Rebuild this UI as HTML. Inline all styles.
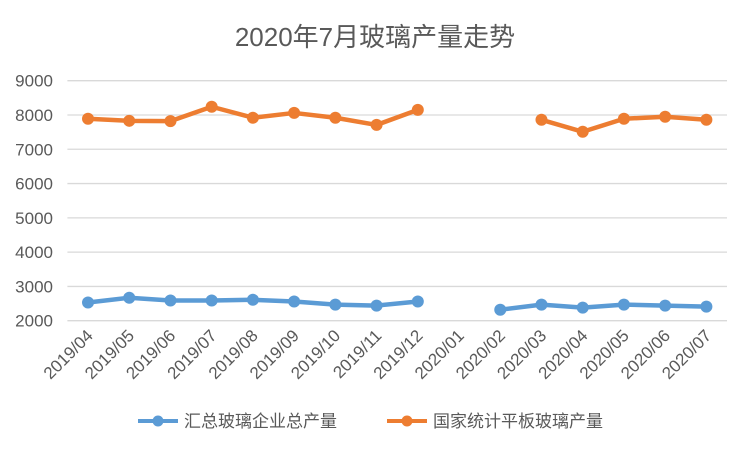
<!DOCTYPE html>
<html><head><meta charset="utf-8"><style>
body{margin:0;background:#fff;}
svg text{font-family:"Liberation Sans","Noto Sans CJK SC",sans-serif;fill:#595959;}
</style></head><body>
<svg width="750" height="449" xmlns="http://www.w3.org/2000/svg">
<text x="375" y="46" text-anchor="middle" font-size="26">2020年7月玻璃产量走势</text>
<g id="grid"></g><g id="xl"></g><g id="series"></g>
<g>
<g><line x1="138" y1="421" x2="178" y2="421" stroke="#5B9BD5" stroke-width="4"/><circle cx="158" cy="421" r="5.5" fill="#5B9BD5"/><text x="184" y="427" font-size="17">汇总玻璃企业总产量</text></g>
<g><line x1="387" y1="421" x2="427" y2="421" stroke="#ED7D31" stroke-width="4"/><circle cx="407" cy="421" r="5.5" fill="#ED7D31"/><text x="433" y="427" font-size="17">国家统计平板玻璃产量</text></g>
</g>
</svg>
<script>
const categories=["2019/04","2019/05","2019/06","2019/07","2019/08","2019/09","2019/10","2019/11","2019/12","2020/01","2020/02","2020/03","2020/04","2020/05","2020/06","2020/07"].slice(0,15).map((c,i,a)=>c);
const cats=["2019/04","2019/05","2019/06","2019/07","2019/08","2019/09","2019/10","2019/11","2019/12","2020/01","2020/02","2020/03","2020/04","2020/05","2020/06"].concat(["2020/07"]);
const blueValues=[2530,2670,2590,2590,2610,2560,2470,2440,2560,null,2320,2470,2380,2470,2440,2410];
const orangeValues=[7890,7830,7820,8240,7920,8060,7920,7710,8150,null,null,7860,7510,7890,7950,7860];
const yTicks=[2000,3000,4000,5000,6000,7000,8000,9000];
const NS="http://www.w3.org/2000/svg";
const L=67.4,R=727,T=80.7,B=320.7,ymin=2000,ymax=9000;
const n=cats.length, step=(R-L)/n;
const xs=i=>L+step*(i+0.5);
const ys=v=>B-(v-ymin)/(ymax-ymin)*(B-T);
function mk(t,a,p){const e=document.createElementNS(NS,t);for(const k in a)e.setAttribute(k,a[k]);p.appendChild(e);return e;}
const g=document.getElementById('grid');
yTicks.forEach(v=>{
 const l=mk('line',{x1:L,x2:R,y1:ys(v),y2:ys(v),stroke:'#D9D9D9','stroke-width':1.3},g);
 
 
 const t=mk('text',{x:53,y:ys(v)+6,'text-anchor':'end','font-size':17},g);t.textContent=v;
 
 
});
const xl=document.getElementById('xl');
cats.forEach((c,i)=>{
 const x=xs(i)+6,y=B+16;
 const t=mk('text',{x:x,y:y,'text-anchor':'end','font-size':17,transform:`rotate(-45 ${x} ${y})`},xl);t.textContent=c;
 
 
});
const s=document.getElementById('series');
function draw(vals,color,name){
 let seg=[];const segs=[];
 vals.forEach((v,i)=>{if(v==null){if(seg.length)segs.push(seg);seg=[];}else seg.push([xs(i),ys(v)]);});
 if(seg.length)segs.push(seg);
 segs.forEach(sg=>{const p=mk('polyline',{points:sg.map(q=>q.join(',')).join(' '),fill:'none',stroke:color,'stroke-width':4.5,'stroke-linejoin':'round'},s);
  
  });
 vals.forEach((v,i)=>{if(v==null)return;const c=mk('circle',{cx:xs(i),cy:ys(v),r:6,fill:color},s);
  
  });
}
draw(blueValues,'#5B9BD5','blue-series');
draw(orangeValues,'#ED7D31','orange-series');
</script>
</body></html>
